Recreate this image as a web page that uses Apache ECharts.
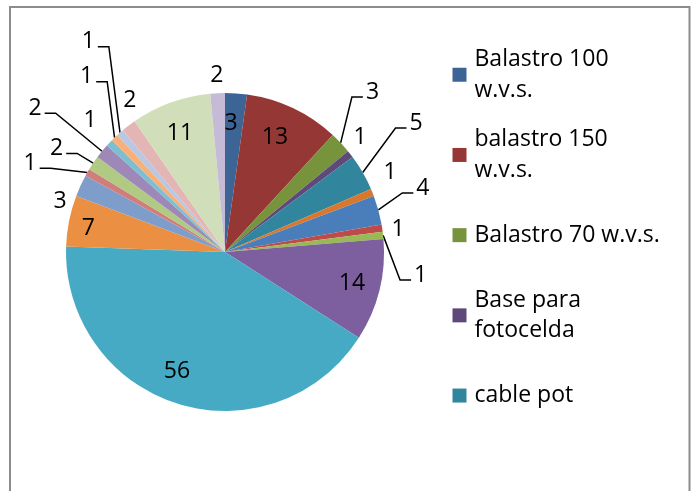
<!DOCTYPE html>
<html>
<head>
<meta charset="utf-8">
<script src="https://cdn.jsdelivr.net/npm/echarts@6/dist/echarts.min.js"></script>
<style>
html,body{margin:0;padding:0;background:#fff;}
#chart{width:692px;height:491px;}
</style>
</head>
<body>
<div id="chart"></div>
<script>
// ---- data ----
const categories = [
  'Balastro 100 w.v.s.', 'balastro 150 w.v.s.', 'Balastro 70 w.v.s.', 'Base para fotocelda', 'cable pot',
  'Categoría 6', 'Categoría 7', 'Categoría 8', 'Categoría 9', 'Categoría 10', 'Categoría 11',
  'Categoría 12', 'Categoría 13', 'Categoría 14', 'Categoría 15', 'Categoría 16', 'Categoría 17',
  'Categoría 18', 'Categoría 19', 'Categoría 20', 'Categoría 21', 'Categoría 22'
];
const values = [3, 13, 3, 1, 5, 1, 4, 1, 1, 14, 56, 7, 3, 1, 2, 2, 1, 1, 1, 2, 11, 2];
const legendCount = 5;

// ---- style ----
const palette = [
  '#3C6494', '#953735', '#77933C', '#5F497A', '#31859C', '#D8782E',
  '#4A7EBB', '#BE4B48', '#98B954', '#7D5FA0', '#46AAC4', '#EB8F43',
  '#7F9DCB', '#CF7E7C', '#B0CA84', '#9D88B8', '#7CBFD3', '#F9AF76',
  '#B9C8E2', '#E3B6B5', '#D1DEBA', '#C5BBD6'
];
// label placement: distance from centre (px) and angular shift from slice middle (deg)
const labelDist = [129, 125, 217.6, 176.7, 230.5, 183, 208, 174.4, 197, 130.7, 129, 138.7,
                   172.5, 214.2, 197.7, 238.2, 188.8, 223.3, 250.8, 179.2, 126.9, 177.2];
const labelTurn = [-1.3, -1.8, -4.0, -2.2, -4.0, -3.6, -2.6, 1.4, 12.7, -0.3, 4.5, -1.5,
                   -7.7, -5.5, -2.4, -2.2, 1.0, 5.7, 8.3, 5.3, -0.8, 0];
const leader = [0, 0, 1, 0, 1, 0, 1, 0, 1, 0, 0, 0, 0, 1, 1, 1, 0, 1, 1, 0, 0, 0];

const CX = 225, CY = 252, RADIUS = 159;
const FONT = 'Open Sans';
const FS = 23;
const LH = 30.5;
const LEGEND_W = 190;

const total = values.reduce((a, b) => a + b, 0);
const midAngles = [];
(function () {
  let acc = 0;
  values.forEach(v => { midAngles.push((acc + v / 2) / total * 360); acc += v; });
})();

const measureCtx = document.createElement('canvas').getContext('2d');
measureCtx.font = FS + 'px "' + FONT + '"';
function wraps(t) { return measureCtx.measureText(t).width > LEGEND_W; }

const chart = echarts.init(document.getElementById('chart'), null, {renderer: 'canvas'});
chart.setOption({
  animation: false,
  backgroundColor: '#fff',
  color: palette,
  graphic: [{
    type: 'rect', silent: true, z: -10,
    shape: {x: 10, y: 7, width: 679.5, height: 530},
    style: {fill: 'none', stroke: '#8c8c8c', lineWidth: 2}
  }],
  legend: {
    orient: 'vertical',
    left: 452.5,
    top: 29,
    padding: 0,
    itemWidth: 14,
    itemHeight: 14,
    itemGap: -11.3,
    selectedMode: false,
    data: categories.slice(0, legendCount).map(n => ({
      name: n,
      icon: 'rect',
      textStyle: {padding: wraps(n) ? [LH, 0, 0, 3] : [LH, 0, LH, 3]}
    })),
    textStyle: {
      fontFamily: FONT, fontSize: FS, color: '#000', lineHeight: LH,
      width: LEGEND_W, overflow: 'break'
    }
  },
  series: [{
    type: 'pie',
    center: [CX, CY],
    radius: RADIUS,
    startAngle: 90,
    clockwise: true,
    avoidLabelOverlap: false,
    itemStyle: {borderWidth: 0},
    emphasis: {scale: false},
    label: {
      show: true, position: 'outside', color: '#000',
      fontFamily: FONT, fontSize: FS, formatter: '{c}'
    },
    labelLine: {show: false, lineStyle: {color: '#000', width: 1.5}},
    labelLayout: function (p) {
      const i = p.dataIndex;
      const a = (midAngles[i] + labelTurn[i]) * Math.PI / 180;
      const R = labelDist[i];
      const x = CX + R * Math.sin(a);
      const y = CY - R * Math.cos(a);
      const out = {x: x, y: y, align: 'center', verticalAlign: 'middle'};
      if (leader[i]) {
        const m = midAngles[i] * Math.PI / 180;
        const ex = CX + RADIUS * Math.sin(m);
        const ey = CY - RADIUS * Math.cos(m);
        const side = x > CX ? -1 : 1;
        const w = p.labelRect.width;
        const endX = x + side * (w / 2 + 3);
        const ly = y + 5;
        out.labelLinePoints = [[ex, ey], [endX + side * 11, ly], [endX, ly]];
      }
      return out;
    },
    data: values.map((v, i) => ({
      name: categories[i],
      value: v,
      labelLine: {show: !!leader[i]}
    }))
  }]
});
</script>
</body>
</html>
